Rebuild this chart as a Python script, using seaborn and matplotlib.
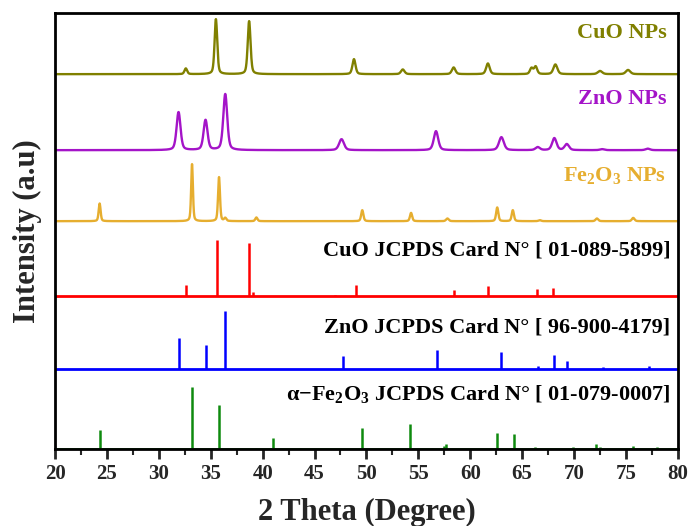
import numpy as np
import pandas as pd
import matplotlib.pyplot as plt
import seaborn as sns

# XRD patterns of the synthesized NPs and the JCPDS reference cards
# peak position (2 theta), peak height (relative), peak width (FWHM, degree)

# CuO NPs
cuo_pos = [32.6, 35.5, 38.7, 48.8, 53.5, 58.4, 61.7, 65.9, 66.3, 68.2, 72.5, 75.2]
cuo_int = [5.7, 55, 53, 15, 4.7, 6.7, 10.7, 6, 7.5, 9.7, 3.2, 4.2]
cuo_fwhm = [0.3, 0.3, 0.32, 0.35, 0.4, 0.4, 0.4, 0.35, 0.35, 0.45, 0.5, 0.5]

# ZnO NPs
zno_pos = [31.9, 34.5, 36.4, 47.6, 56.7, 63.0, 66.5, 68.1, 69.3, 72.7, 77.1]
zno_int = [38, 30, 56, 11, 19, 13, 3, 12, 6, 1, 1.5]
zno_fwhm = [0.45, 0.45, 0.45, 0.55, 0.5, 0.55, 0.5, 0.5, 0.5, 0.5, 0.5]

# Fe2O3 NPs
fe_pos = [24.3, 33.2, 35.8, 36.4, 39.4, 49.6, 54.3, 57.8, 62.6, 64.1, 66.7, 72.2, 75.7]
fe_int = [17.7, 57, 44, 3, 3.7, 11, 8.3, 2.7, 13.7, 11, 1, 2.7, 3.3]
fe_fwhm = [0.22, 0.2, 0.22, 0.25, 0.25, 0.25, 0.25, 0.3, 0.25, 0.25, 0.3, 0.3, 0.3]

# CuO JCPDS Card 01-089-5899
cuo_card_pos = [32.6, 35.6, 38.7, 39.1, 47.0, 49.0, 58.4, 61.7, 66.4, 68.0]
cuo_card_int = [10.7, 56, 53, 4, 1.3, 10.7, 6.3, 9.7, 7.3, 7.7]

# ZnO JCPDS Card 96-900-4179
zno_card_pos = [31.9, 34.5, 36.4, 47.7, 56.8, 63.0, 66.5, 68.1, 69.3, 72.8, 77.2]
zno_card_int = [30.7, 23.7, 57.7, 13.3, 18.7, 16.7, 3.3, 14.3, 7.7, 2, 3]

# alpha-Fe2O3 JCPDS Card 01-079-0007
fe_card_pos = [24.3, 33.2, 35.8, 39.4, 41.0, 43.6, 49.6, 54.2, 56.3, 57.5, 57.7,
               62.6, 64.2, 66.2, 69.9, 72.1, 72.5, 75.7, 78.0, 79.1]
fe_card_int = [18.3, 61.7, 44, 1, 11, 1, 20.7, 25, 1, 3, 4.3,
               15.7, 15, 1.5, 1.5, 5, 2, 2.7, 1.5, 1]

labels = ['CuO NPs', 'ZnO NPs', 'Fe$_2$O$_3$ NPs',
          'CuO JCPDS Card N° [ 01-089-5899]',
          'ZnO JCPDS Card N° [ 96-900-4179]',
          'α−Fe$_2$O$_3$ JCPDS Card N° [ 01-079-0007]']
colors = ['#808000', '#a414c8', '#e6ae2f', '#ff0000', '#0000ff', '#0f8a0f']
offsets = [375, 299, 228, 153, 80, 0.5]
label_y = [411, 345, 268, 194, 117, 49]


def profile(x, pos, hgt, fwhm):
    # pseudo-Voigt peaks summed on a grid
    y = np.zeros_like(x)
    for c, h, w in zip(pos, hgt, fwhm):
        g = np.exp(-4 * np.log(2) * ((x - c) / w) ** 2)
        l = 1 / (1 + 4 * ((x - c) / w) ** 2)
        y += h * (0.6 * g + 0.4 * l)
    return y


sns.set_style('ticks')
plt.rcParams['font.family'] = ['Liberation Serif', 'DejaVu Serif']
plt.rcParams['font.weight'] = 'bold'
plt.rcParams['mathtext.fontset'] = 'custom'
plt.rcParams['mathtext.rm'] = 'Liberation Serif:bold'
plt.rcParams['mathtext.default'] = 'rm'

fig, ax = plt.subplots(figsize=(6.91, 5.26), dpi=100)
fig.subplots_adjust(left=0.0796, right=0.981, bottom=0.146, top=0.975)

# experimental patterns
theta = np.arange(20, 80.001, 0.02)
samples = [(cuo_pos, cuo_int, cuo_fwhm), (zno_pos, zno_int, zno_fwhm), (fe_pos, fe_int, fe_fwhm)]
for i, (p, h, w) in enumerate(samples):
    df = pd.DataFrame({'theta': theta, 'intensity': profile(theta, p, h, w) + offsets[i]})
    sns.lineplot(data=df, x='theta', y='intensity', color=colors[i], linewidth=1.7, ax=ax)

# reference cards as stick patterns
cards = [(cuo_card_pos, cuo_card_int), (zno_card_pos, zno_card_int), (fe_card_pos, fe_card_int)]
for j, (p, h) in enumerate(cards):
    k = j + 3
    ax.hlines(offsets[k], 20, 80, color=colors[k], linewidth=2)
    ax.vlines(p, offsets[k], np.array(h) + offsets[k], color=colors[k], linewidth=1.8)

# descriptions
for i in range(6):
    x_txt = 78.9 if i < 3 else 79.3
    ax.text(x_txt, label_y[i], labels[i], ha='right', va='baseline',
            color=colors[i] if i < 3 else 'black', fontsize=16, fontweight='bold')

ax.set_xlim(20, 80)
ax.set_ylim(0, 436)
ax.set_xticks(np.arange(20, 81, 5))
ax.set_xticks(np.arange(22.5, 80, 5), minor=True)
ax.set_yticks([])
ax.tick_params(axis='x', which='major', direction='out', length=7, width=2, labelsize=15, pad=4)
ax.tick_params(axis='x', which='minor', direction='out', length=4, width=1.5)
for s in ax.spines.values():
    s.set_linewidth(2)
    s.set_color('black')

ax.set_xlabel('2 Theta (Degree)', fontsize=22, fontweight='bold', labelpad=10)
ax.set_ylabel('Intensity (a.u)', fontsize=22, fontweight='bold')
ax.yaxis.set_label_coords(-0.021, 0.5)

plt.savefig('out.png', dpi=100)
